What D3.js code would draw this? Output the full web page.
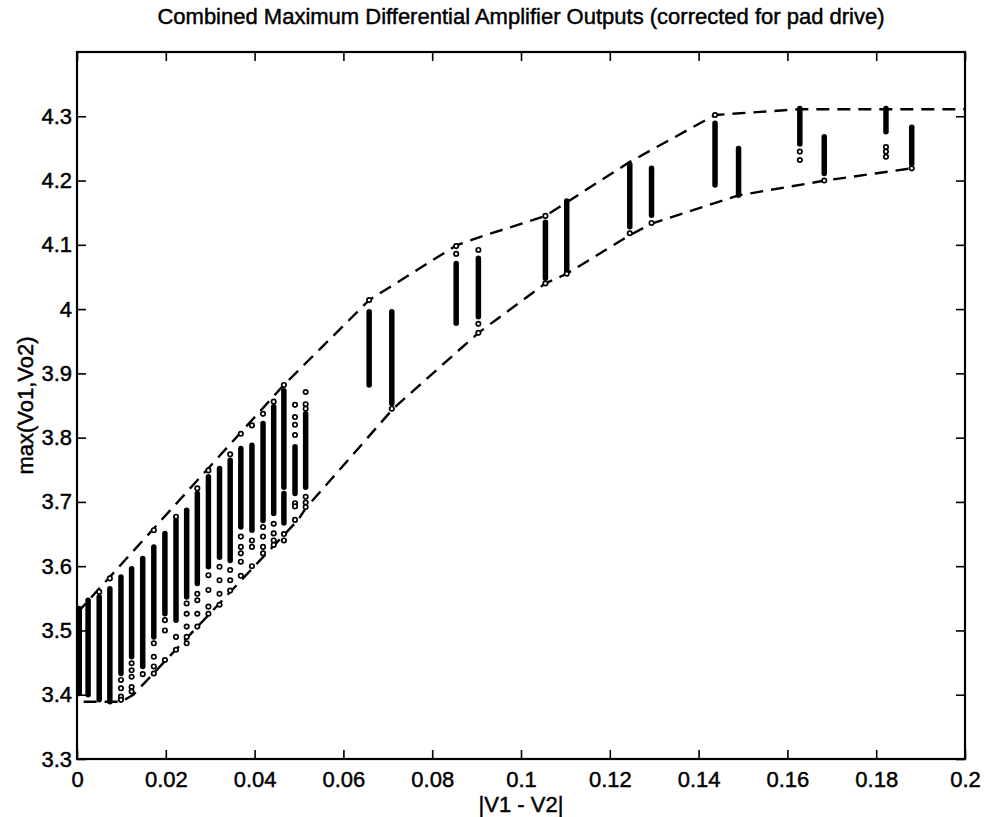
<html>
<head>
<style>
  body { margin: 0; background: #fff; }
  text { font-family: "Liberation Sans", Arial, Helvetica, sans-serif; fill: #000; stroke: #000; stroke-width: 0.45px; }
</style>
</head>
<body>
<script src="https://d3js.org/d3.v7.min.js"></script>
<script>

// axis ticks
var xTicks = [0, 0.02, 0.04, 0.06, 0.08, 0.1, 0.12, 0.14, 0.16, 0.18, 0.2],
    xTickLabels = ['0', '0.02', '0.04', '0.06', '0.08', '0.1', '0.12', '0.14', '0.16', '0.18', '0.2'],
    yTicks = [3.3, 3.4, 3.5, 3.6, 3.7, 3.8, 3.9, 4.0, 4.1, 4.2, 4.3],
    yTickLabels = ['3.3', '3.4', '3.5', '3.6', '3.7', '3.8', '3.9', '4', '4.1', '4.2', '4.3'];

// dashed envelopes [|V1-V2|, max(Vo1,Vo2)]
var upperEnvelope = [[0, 3.527], [0.0466, 3.882], [0.0658, 4.014], [0.0854, 4.099], [0.0907, 4.112],
                     [0.1055, 4.145], [0.1245, 4.229], [0.1437, 4.302], [0.1628, 4.311], [0.2, 4.311]];
var lowerEnvelope = [[0.0015, 3.389], [0.0099, 3.389], [0.0127, 3.400], [0.0498, 3.672], [0.0515, 3.690],
                     [0.0712, 3.845], [0.0904, 3.963], [0.1055, 4.040], [0.1103, 4.055], [0.1245, 4.115],
                     [0.1294, 4.133], [0.149, 4.177], [0.1685, 4.200], [0.188, 4.219]];

// columns of simulated outputs: x, dense runs [lo, hi], single points
var colX = [0.0005, 0.0025, 0.005, 0.0074, 0.0099, 0.0123, 0.0148, 0.0173, 0.0198, 0.0223, 0.0247,
            0.0271, 0.0296, 0.0321, 0.0345, 0.0369, 0.0394, 0.0419, 0.0443, 0.0466, 0.0491, 0.0515,
            0.0658, 0.0709, 0.0854, 0.0904, 0.1055, 0.1103, 0.1245, 0.1294, 0.1437, 0.149,
            0.1628, 0.1683, 0.1822, 0.188];
var colRuns = [
  [[3.402, 3.534]], [[3.400, 3.547]], [[3.392, 3.552]], [[3.389, 3.565]], [[3.433, 3.583]],
  [[3.459, 3.596]], [[3.444, 3.612]], [[3.490, 3.630]], [[3.526, 3.651]], [[3.516, 3.671]],
  [[3.552, 3.687]], [[3.573, 3.713]], [[3.599, 3.739]], [[3.614, 3.752]], [[3.609, 3.765]],
  [[3.661, 3.783]], [[3.656, 3.788]], [[3.671, 3.822]], [[3.682, 3.848]], [[3.723, 3.873], [3.667, 3.713]],
  [[3.713, 3.786]], [[3.723, 3.837]],
  [[3.882, 3.996]], [[3.853, 3.996]], [[3.978, 4.071]], [[3.988, 4.079]], [[4.048, 4.135]], [[4.060, 4.168]],
  [[4.128, 4.225]], [[4.146, 4.219]], [[4.193, 4.289]], [[4.177, 4.250]],
  [[4.257, 4.312]], [[4.211, 4.268]], [[4.276, 4.312]], [[4.226, 4.283]]
];
var colDots = [
  [], [], [3.560], [3.581], [3.423, 3.410, 3.397, 3.392],
  [3.449, 3.438, 3.428, 3.412, 3.405], [3.432], [3.656, 3.480, 3.459, 3.444, 3.433], [3.516, 3.500, 3.454], [3.677, 3.490, 3.470],
  [3.542, 3.526, 3.506, 3.490, 3.480], [3.721, 3.557, 3.547, 3.526, 3.506], [3.749, 3.586, 3.563, 3.537, 3.526],
  [3.599, 3.578, 3.557, 3.540], [3.774, 3.594, 3.578, 3.562],
  [3.806, 3.646, 3.630, 3.620, 3.607, 3.585], [3.819, 3.640, 3.630, 3.600], [3.837, 3.661, 3.646, 3.630, 3.620],
  [3.856, 3.666, 3.651, 3.640, 3.633], [3.882, 3.650, 3.640],
  [3.851, 3.832, 3.820, 3.804, 3.698, 3.693, 3.672], [3.871, 3.852, 3.845, 3.708, 3.699, 3.692],
  [4.014], [3.845], [4.098, 4.086], [4.092, 3.977, 3.963], [4.145, 4.040], [4.055],
  [4.118], [4.134], [4.302], [],
  [4.245, 4.232], [4.200], [4.252, 4.245, 4.237], [4.219]
];

var width = 984,
    height = 817;

var x = d3.scaleLinear().domain([0, 0.2]).range([77, 965]),
    y = d3.scaleLinear().domain([3.3, 4.4]).range([759, 52]);

var svg = d3.select('body').append('svg')
    .attr('width', width)
    .attr('height', height);

svg.append('rect')
    .attr('width', width).attr('height', height)
    .attr('fill', '#fff');

// title + labels
svg.append('text')
    .attr('x', (x.range()[0] + x.range()[1]) / 2)
    .attr('y', 24)
    .attr('text-anchor', 'middle')
    .style('font-size', '22px')
    .text('Combined Maximum Differential Amplifier Outputs (corrected for pad drive)');

svg.append('text')
    .attr('x', (x.range()[0] + x.range()[1]) / 2)
    .attr('y', 812)
    .attr('text-anchor', 'middle')
    .style('font-size', '22px')
    .text('|V1 - V2|');

svg.append('text')
    .attr('transform', 'translate(33,' + (y.range()[0] + y.range()[1]) / 2 + ') rotate(-90)')
    .attr('text-anchor', 'middle')
    .style('font-size', '22px')
    .text('max(Vo1,Vo2)');

// axes, ticks inside like matlab
function styleAxis(g) {
  g.select('.domain').remove();
  g.selectAll('.tick line').attr('stroke', '#000').attr('stroke-width', 1.6);
  g.selectAll('.tick text').style('font-size', '22px').attr('fill', '#000');
}

svg.append('g')
    .attr('transform', 'translate(0,' + y.range()[0] + ')')
    .call(d3.axisBottom(x).tickValues(xTicks).tickSizeInner(-9).tickSizeOuter(0).tickPadding(12)
      .tickFormat(function(d, i) { return xTickLabels[i]; }))
    .call(styleAxis);

svg.append('g')
    .attr('transform', 'translate(0,' + y.range()[1] + ')')
    .call(d3.axisTop(x).tickValues(xTicks).tickSizeInner(-9).tickSizeOuter(0).tickFormat(''))
    .call(styleAxis);

svg.append('g')
    .attr('transform', 'translate(' + x.range()[0] + ',0)')
    .call(d3.axisLeft(y).tickValues(yTicks).tickSizeInner(-9).tickSizeOuter(0).tickPadding(5)
      .tickFormat(function(d, i) { return yTickLabels[i]; }))
    .call(styleAxis);

svg.append('g')
    .attr('transform', 'translate(' + x.range()[1] + ',0)')
    .call(d3.axisRight(y).tickValues(yTicks).tickSizeInner(-9).tickSizeOuter(0).tickFormat(''))
    .call(styleAxis);

svg.append('rect')
    .attr('x', x.range()[0]).attr('y', y.range()[1])
    .attr('width', x.range()[1] - x.range()[0])
    .attr('height', y.range()[0] - y.range()[1])
    .attr('fill', 'none')
    .attr('stroke', '#000')
    .attr('stroke-width', 2.2);

// envelopes
var line = d3.line()
    .x(function(d) { return x(d[0]); })
    .y(function(d) { return y(d[1]); });

[upperEnvelope, lowerEnvelope].forEach(function(env) {
  svg.append('path')
      .attr('d', line(env))
      .attr('fill', 'none')
      .attr('stroke', '#000')
      .attr('stroke-width', 2.4)
      .attr('stroke-dasharray', '13,8');
});

// data columns
var cols = svg.append('g');
colX.forEach(function(cx, i) {
  colRuns[i].forEach(function(r) {
    cols.append('line')
        .attr('x1', x(cx)).attr('x2', x(cx))
        .attr('y1', y(r[0])).attr('y2', y(r[1]))
        .attr('stroke', '#000')
        .attr('stroke-width', 5.5)
        .attr('stroke-linecap', 'round');
  });
  colDots[i].forEach(function(v) {
    cols.append('circle')
        .attr('cx', x(cx)).attr('cy', y(v))
        .attr('r', 2.2)
        .attr('fill', '#fff')
        .attr('stroke', '#000')
        .attr('stroke-width', 1.7);
  });
});

</script>
</body>
</html>
